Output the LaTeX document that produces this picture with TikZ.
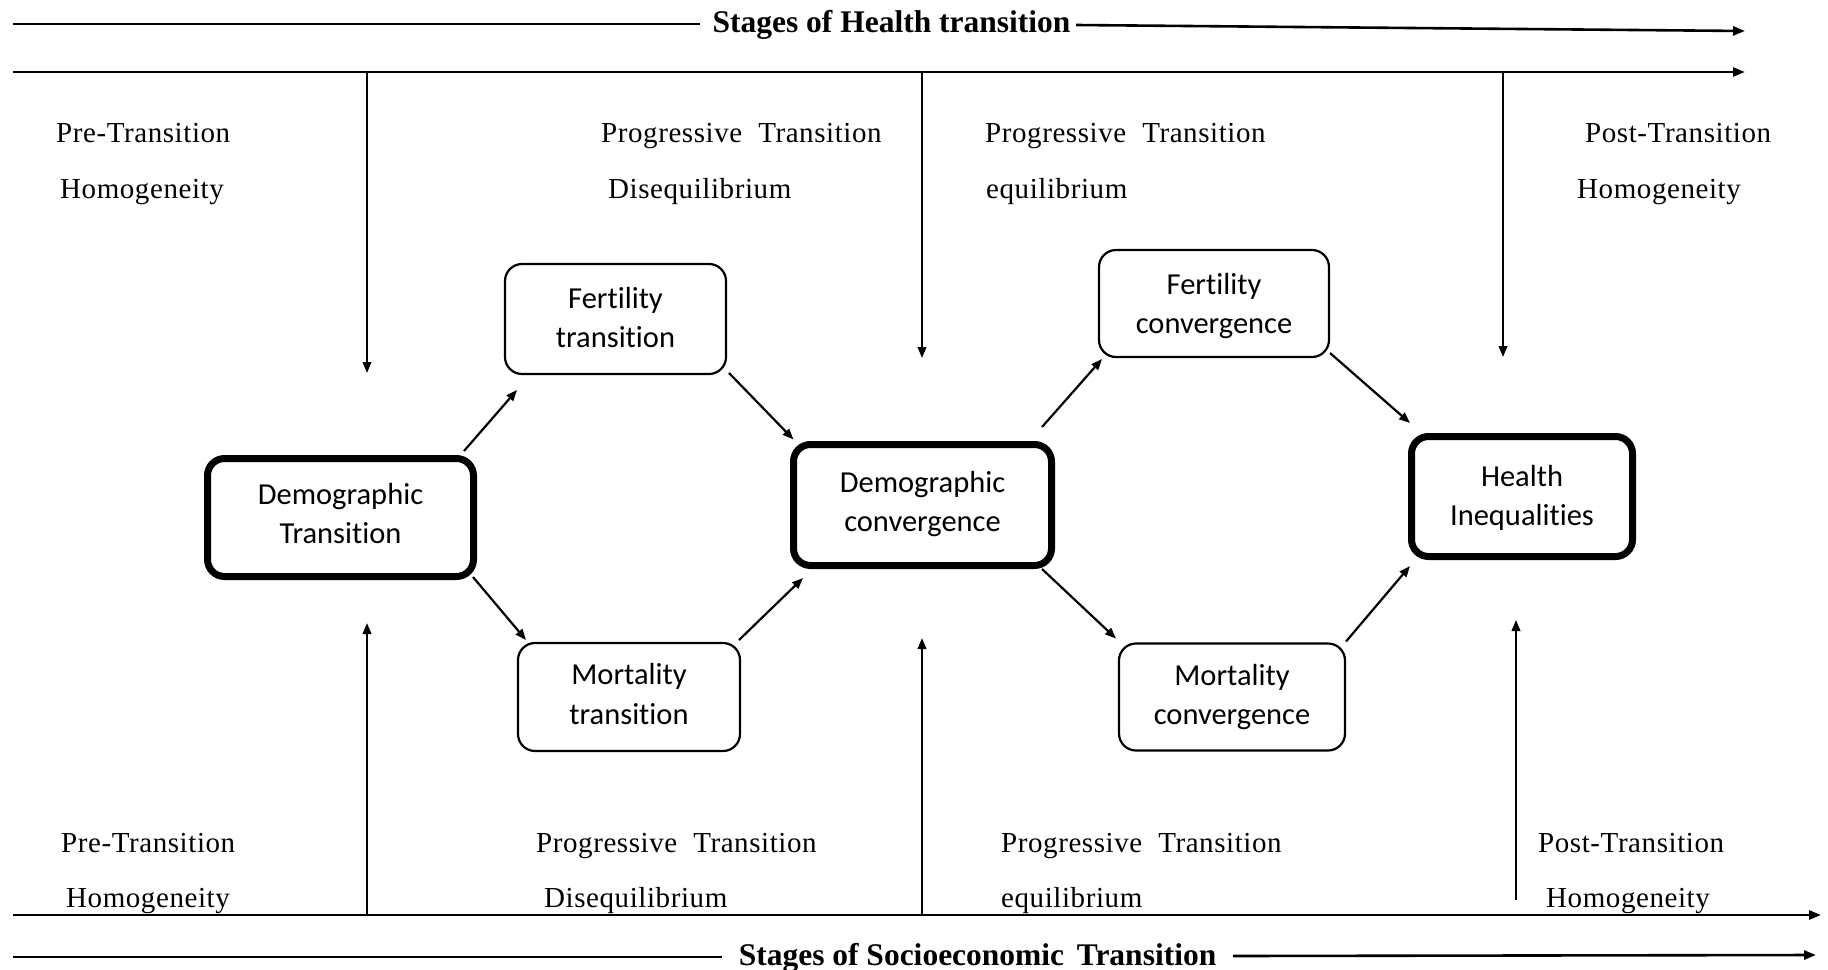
\documentclass[tikz,border=0pt]{standalone}
\usepackage{fontspec}
\setmainfont{Liberation Serif}
\newfontfamily\boxfont[Ligatures=NoCommon]{Carlito}
\newfontfamily\lblfont[LetterSpace=2]{Liberation Serif}
\usetikzlibrary{arrows.meta}
\begin{document}
\begin{tikzpicture}[x=1pt,y=-1pt,
  box/.style={draw, rounded corners=17pt, line width=2.2pt, inner sep=0pt, outer sep=0pt},
  thickbox/.style={box, line width=7pt},
  boxtext/.style={align=center, inner sep=0pt, font=\boxfont\fontsize{30.5}{39.5}\selectfont,
    execute at begin node=\strut, execute at end node=\strut},
  arr/.style={-{Triangle[length=11pt,width=8.5pt]}, line width=2.2pt},
  axis/.style={line width=2.6pt},
  axisarr/.style={axis, -{Triangle[length=12pt,width=9pt]}},
  lbl/.style={anchor=base west, inner sep=0pt, font=\lblfont\fontsize{29}{30}\selectfont},
  ttl/.style={anchor=base, inner sep=0pt, font=\bfseries\fontsize{31.5}{33}\selectfont}]
\useasboundingbox (0,0) rectangle (1828,969);

% top title
\node[ttl] (T1) at (891.5,32) {Stages of Health transition};
\coordinate (t1a) at (13,24);
\coordinate (t1b) at (700,24);
\coordinate (t1c) at (1076,25);
\coordinate (t1d) at (1745,31);
\draw[axis] (t1a) -- (t1b);
\draw[axisarr] (t1c) -- (t1d);

% top axis
\coordinate (ta) at (13,72);
\coordinate (tb) at (1745,72);
\draw[axisarr] (ta) -- (tb);

% bottom axis
\coordinate (ba) at (13,915);
\coordinate (bb) at (1821,915);
\draw[axisarr] (ba) -- (bb);

% bottom title
\node[ttl] (T2) at (977.5,965) {Stages of Socioeconomic\hspace{0.4em}Transition};
\coordinate (b2a) at (13,957);
\coordinate (b2b) at (722,957);
\coordinate (b2c) at (1233,956);
\coordinate (b2d) at (1816,955);
\draw[axis] (b2a) -- (b2b);
\draw[axisarr] (b2c) -- (b2d);

% top labels
\node[lbl] (l1a) at (56,142) {Pre-Transition};
\node[lbl] (l1b) at (60,198) {Homogeneity};
\node[lbl] (l2a) at (601,142) {Progressive\hspace{0.55em}Transition};
\node[lbl] (l2b) at (608,198) {Disequilibrium};
\node[lbl] (l3a) at (985,142) {Progressive\hspace{0.55em}Transition};
\node[lbl] (l3b) at (986,198) {equilibrium};
\node[lbl] (l4a) at (1585,142) {Post-Transition};
\node[lbl] (l4b) at (1577,198) {Homogeneity};

% bottom labels
\node[lbl] (m1a) at (61,852) {Pre-Transition};
\node[lbl] (m1b) at (66,907) {Homogeneity};
\node[lbl] (m2a) at (536,852) {Progressive\hspace{0.55em}Transition};
\node[lbl] (m2b) at (544,907) {Disequilibrium};
\node[lbl] (m3a) at (1001,852) {Progressive\hspace{0.55em}Transition};
\node[lbl] (m3b) at (1001,907) {equilibrium};
\node[lbl] (m4a) at (1538,852) {Post-Transition};
\node[lbl] (m4b) at (1546,907) {Homogeneity};

% boxes (text set as centred labels)
\node[thickbox, minimum width=266pt, minimum height=118pt,
  label={[boxtext, name=DTt, yshift=-2pt]center:Demographic\\Transition}] (DT) at (340.5,517.5) {};
\node[box, minimum width=221pt, minimum height=110pt,
  label={[boxtext, name=FTt, yshift=-4.5pt]center:Fertility\\transition}] (FT) at (615.5,319) {};
\node[box, minimum width=222pt, minimum height=108pt,
  label={[boxtext, name=MTt, yshift=-3pt]center:Mortality\\transition}] (MT) at (629,697) {};
\node[thickbox, minimum width=258pt, minimum height=121pt,
  label={[boxtext, name=DCt, yshift=-2.5pt]center:Demographic\\convergence}] (DC) at (922.5,505) {};
\node[box, minimum width=230pt, minimum height=107pt,
  label={[boxtext, name=FCt, yshift=-6pt]center:Fertility\\convergence}] (FC) at (1214,303.5) {};
\node[box, minimum width=226pt, minimum height=107pt,
  label={[boxtext, name=MCt, yshift=-3.5pt]center:Mortality\\convergence}] (MC) at (1232,697) {};
\node[thickbox, minimum width=221pt, minimum height=120pt,
  label={[boxtext, name=HIt, yshift=-5pt]center:Health\\Inequalities}] (HI) at (1522,496.5) {};

% connectors between boxes
\draw[arr] ([shift={(-9.5,-7.5)}]DT.north east) -- ([shift={(12,16)}]FT.south west);
\draw[arr] ([shift={(-0.5,0.5)}]DT.south east) -- ([shift={(8,-3)}]MT.north west);
\draw[arr] ([shift={(3,-1)}]FT.south east) -- ([shift={(0,-5)}]DC.north west);
\draw[arr] ([shift={(-1,-3)}]MT.north east) -- ([shift={(9.5,12.5)}]DC.south west);
\draw[arr] ([shift={(-9.5,-17.5)}]DC.north east) -- ([shift={(3,2)}]FC.south west);
\draw[arr] ([shift={(-9.5,3.5)}]DC.south east) -- ([shift={(-3,-5)}]MC.north west);
\draw[arr] ([shift={(1,-4)}]FC.south east) -- ([shift={(-1.5,-13.5)}]HI.north west);
\draw[arr] ([shift={(1,-2)}]MC.north east) -- ([shift={(-1.5,9.5)}]HI.south west);

% vertical arrows from top axis
\coordinate (d1) at (367,72);  \coordinate (e1) at (367,373);
\coordinate (d2) at (922,72);  \coordinate (e2) at (922,358);
\coordinate (d3) at (1503,72); \coordinate (e3) at (1503,357);
\draw[arr] (d1) -- (e1);
\draw[arr] (d2) -- (e2);
\draw[arr] (d3) -- (e3);

% vertical arrows from bottom axis
\coordinate (u1) at (367,915);  \coordinate (v1) at (367,623);
\coordinate (u2) at (922,915);  \coordinate (v2) at (922,638);
\coordinate (u3) at (1516,900); \coordinate (v3) at (1516,620);
\draw[arr] (u1) -- (v1);
\draw[arr] (u2) -- (v2);
\draw[arr] (u3) -- (v3);
\end{tikzpicture}
\end{document}
